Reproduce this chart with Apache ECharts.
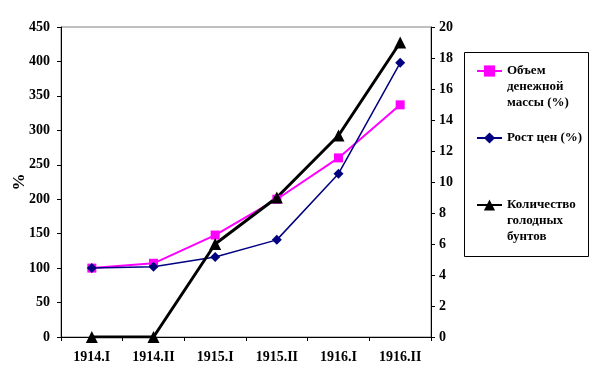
<!DOCTYPE html>
<html>
<head>
<meta charset="utf-8">
<script src="https://cdn.jsdelivr.net/npm/echarts@6/dist/echarts.min.js"></script>
<style>html,body{margin:0;padding:0;background:#fff;}#c{width:601px;height:385px;}</style>
</head>
<body>
<div id="c"></div>
<script>
var categories = ['1914.I', '1914.II', '1915.I', '1915.II', '1916.I', '1916.II'];
var moneySupply = [100, 107, 148, 200, 260, 337];
var prices = [100, 102, 116, 141, 237, 398];
var riots = [0, 0, 6, 9, 13, 19];
var leftTicks = [0, 450, 50];
var rightTicks = [0, 20, 2];
var names = ['Объем денежной массы (%)', 'Рост цен (%)', 'Количество голодных бунтов'];
var legendLabels = ['\n\nОбъем\nденежной\nмассы (%)', 'Рост цен (%)', '\n\nКоличество\nголодных\nбунтов'];

var FONT = '"Liberation Serif", "Times New Roman", serif';
var chart = echarts.init(document.getElementById('c'), null, {renderer: 'canvas'});
var lblStyle = {color: '#000', fontFamily: FONT, fontWeight: 'bold', fontSize: 14};

function mkLegend(i, top) {
  return {
    data: [names[i]],
    left: 476, top: top, padding: 0,
    itemWidth: 25, itemHeight: 14,
    formatter: function () { return legendLabels[i]; },
    textStyle: {color: '#000', fontFamily: FONT, fontWeight: 'bold', fontSize: 13, lineHeight: 16},
    selectedMode: false
  };
}

chart.setOption({
  animation: false,
  backgroundColor: '#fff',
  grid: {left: 61, right: 170, top: 27, bottom: 48, containLabel: false, outerBoundsMode: 'none',
         show: true, borderColor: '#808080', borderWidth: 1},
  legend: [mkLegend(0, 31), mkLegend(1, 130), mkLegend(2, 165)],
  graphic: [{type: 'rect', shape: {x: 464.5, y: 52.5, width: 124, height: 204}, style: {fill: null, stroke: '#000', lineWidth: 1}, silent: true}],
  xAxis: {
    type: 'category', data: categories, boundaryGap: true,
    axisLine: {lineStyle: {color: '#000', width: 1}},
    axisTick: {show: true, length: 4, lineStyle: {color: '#000'}},
    axisLabel: Object.assign({margin: 13, interval: 0}, lblStyle),
    splitLine: {show: false}
  },
  yAxis: [{
    type: 'value', min: leftTicks[0], max: leftTicks[1], interval: leftTicks[2],
    name: '%', nameLocation: 'middle', nameGap: 33, nameMoveOverlap: false,
    nameTextStyle: {color: '#000', fontFamily: FONT, fontSize: 17, fontWeight: 'bold'},
    axisLine: {show: true, lineStyle: {color: '#000'}},
    axisTick: {show: true, length: 4, lineStyle: {color: '#000'}},
    axisLabel: Object.assign({margin: 11}, lblStyle),
    splitLine: {show: false}
  }, {
    type: 'value', min: rightTicks[0], max: rightTicks[1], interval: rightTicks[2], position: 'right',
    axisLine: {show: true, lineStyle: {color: '#000'}},
    axisTick: {show: true, length: 4, lineStyle: {color: '#000'}},
    axisLabel: Object.assign({margin: 8}, lblStyle),
    splitLine: {show: false}
  }],
  series: [{
    name: names[0], type: 'line', data: moneySupply, yAxisIndex: 0,
    symbol: 'rect', symbolSize: 9,
    lineStyle: {color: '#FF00FF', width: 2}, itemStyle: {color: '#FF00FF'}
  }, {
    name: names[1], type: 'line', data: prices, yAxisIndex: 0,
    symbol: 'diamond', symbolSize: 10,
    lineStyle: {color: '#000080', width: 1.5}, itemStyle: {color: '#000080'}
  }, {
    name: names[2], type: 'line', data: riots, yAxisIndex: 1,
    symbol: 'triangle', symbolSize: 12,
    lineStyle: {color: '#000', width: 3}, itemStyle: {color: '#000'}
  }]
});
</script>
</body>
</html>
